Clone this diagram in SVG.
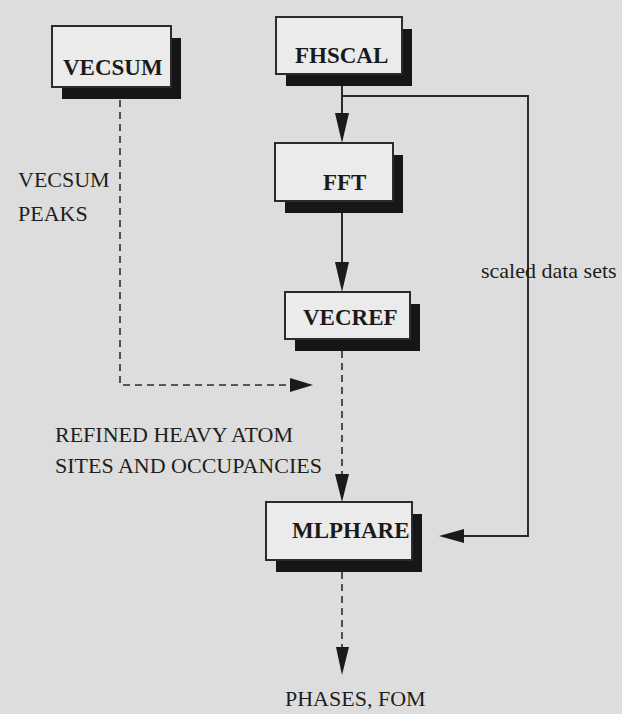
<svg xmlns="http://www.w3.org/2000/svg" width="622" height="714" viewBox="0 0 622 714">
<style>
.bg{fill:#dddddd}
.sh{fill:#161616}
.bx{fill:#ebebeb;stroke:#2b2b2b;stroke-width:2}
.bt{font-family:"Liberation Serif","Times New Roman",serif;font-weight:bold;font-size:23px;fill:#1a1a1a}
.lb{font-family:"Liberation Serif","Times New Roman",serif;font-size:22px;fill:#1e1e1e}
.ln{fill:none;stroke:#2b2b2b;stroke-width:2}
.ds{fill:none;stroke:#2b2b2b;stroke-width:1.6;stroke-dasharray:7 5}
.ah{fill:#1a1a1a}
</style>
<rect class="bg" x="0" y="0" width="622" height="714"/>
<g id="connectors">
<polyline class="ln" points="342,86 342,115"/>
<polygon class="ah" points="335,113 349,113 342,143"/>
<polyline class="ln" points="342,96 528,96 528,536 462,536"/>
<polygon class="ah" points="464,529 464,543 439,536"/>
<polyline class="ln" points="342,213 342,264"/>
<polygon class="ah" points="335,262 349,262 342,292"/>
<polyline class="ds" points="342,351 342,474"/>
<polygon class="ah" points="335,474 349,474 342,502"/>
<polyline class="ds" points="120,100 120,385 290,385"/>
<polygon class="ah" points="290,378 290,392 313,385"/>
<polyline class="ds" points="342,572 342,647"/>
<polygon class="ah" points="336,647 349,647 342,675"/>
</g>
<g id="vecsum">
<rect class="sh" x="62" y="38" width="119" height="61"/>
<rect class="bx" x="52" y="26" width="119" height="61"/>
<text class="bt" x="63" y="75">VECSUM</text>
</g>
<g id="fhscal">
<rect class="sh" x="286" y="29" width="126" height="57"/>
<rect class="bx" x="276" y="17" width="126" height="57"/>
<text class="bt" x="295" y="63">FHSCAL</text>
</g>
<g id="fft">
<rect class="sh" x="285" y="155" width="118" height="58"/>
<rect class="bx" x="275" y="143" width="118" height="58"/>
<text class="bt" x="323" y="190">FFT</text>
</g>
<g id="vecref">
<rect class="sh" x="295" y="304" width="125" height="47"/>
<rect class="bx" x="285" y="292" width="125" height="47"/>
<text class="bt" x="303" y="325">VECREF</text>
</g>
<g id="mlphare">
<rect class="sh" x="276" y="514" width="146" height="58"/>
<rect class="bx" x="266" y="502" width="146" height="58"/>
<text class="bt" x="292" y="538">MLPHARE</text>
</g>
<g id="labels">
<text class="lb" x="18" y="187">VECSUM</text>
<text class="lb" x="18" y="221">PEAKS</text>
<text class="lb" x="481" y="278">scaled data sets</text>
<text class="lb" x="55" y="442">REFINED HEAVY ATOM</text>
<text class="lb" x="55" y="473">SITES AND OCCUPANCIES</text>
<text class="lb" x="285" y="706">PHASES, FOM</text>
</g>
</svg>
